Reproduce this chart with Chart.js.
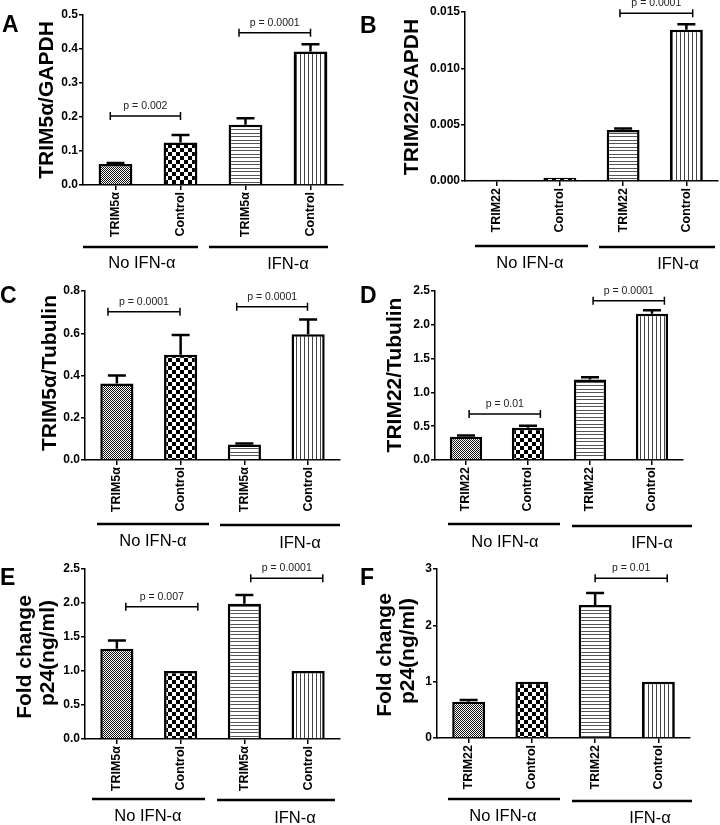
<!DOCTYPE html>
<html>
<head>
<meta charset="utf-8">
<script src="https://cdn.jsdelivr.net/npm/chart.js@4.4.1/dist/chart.umd.min.js"></script>
<style>
  html, body { margin: 0; padding: 0; background: #fff; }
  #page { position: relative; width: 720px; height: 825px; overflow: hidden; }
  canvas { position: absolute; }
</style>
</head>
<body>
<div id="page">
  <canvas id="chartA" width="360" height="270" style="left:0;top:0;width:360px;height:270px"></canvas>
  <canvas id="chartB" width="360" height="270" style="left:360px;top:0;width:360px;height:270px"></canvas>
  <canvas id="chartC" width="360" height="285" style="left:0;top:270px;width:360px;height:285px"></canvas>
  <canvas id="chartD" width="360" height="285" style="left:360px;top:270px;width:360px;height:285px"></canvas>
  <canvas id="chartE" width="360" height="285" style="left:0;top:540px;width:360px;height:285px"></canvas>
  <canvas id="chartF" width="360" height="285" style="left:360px;top:540px;width:360px;height:285px"></canvas>
</div>
<script>
// ---- data ----
const groupNames = ["No IFN-\u03B1", "IFN-\u03B1"];
const labelsTrim5 = ["TRIM5\u03B1", "Control", "TRIM5\u03B1", "Control"];
const labelsTrim22 = ["TRIM22", "Control", "TRIM22", "Control"];

// A: TRIM5a / GAPDH
const trim5Gapdh = [0.062, 0.125, 0.177, 0.393];
const trim5GapdhSem = [0.003, 0.022, 0.019, 0.021];
const pA = ["p = 0.002", "p = 0.0001"];

// B: TRIM22 / GAPDH
const trim22Gapdh = [0.00012, 0.00028, 0.00452, 0.01343];
const trim22GapdhSem = [0, 0, 0.00015, 0.00048];
const pB = ["p = 0.0001"];

// C: TRIM5a / Tubulin
const trim5Tubulin = [0.362, 0.498, 0.073, 0.595];
const trim5TubulinSem = [0.038, 0.094, 0.005, 0.07];
const pC = ["p = 0.0001", "p = 0.0001"];

// D: TRIM22 / Tubulin
const trim22Tubulin = [0.345, 0.477, 1.19, 2.165];
const trim22TubulinSem = [0.019, 0.03, 0.035, 0.05];
const pD = ["p = 0.01", "p = 0.0001"];

// E: p24 fold change, TRIM5a
const p24Trim5 = [1.328, 1.0, 1.99, 1.0];
const p24Trim5Sem = [0.122, 0, 0.128, 0];
const pE = ["p = 0.007", "p = 0.0001"];

// F: p24 fold change, TRIM22
const p24Trim22 = [0.645, 1.0, 2.36, 1.0];
const p24Trim22Sem = [0.03, 0, 0.214, 0];
const pF = ["p = 0.01"];

const FONT = "Arial, 'Liberation Sans', Helvetica, sans-serif";

// fill patterns: fine dots, checkerboard, horizontal lines, vertical lines
function makePattern(kind) {
    const c = document.createElement('canvas');
    const g = c.getContext('2d');
    if (kind === 'fine') {
        c.width = 2; c.height = 2;
        g.fillStyle = '#fff'; g.fillRect(0, 0, 2, 2);
        g.fillStyle = '#111';
        g.fillRect(0, 0, 1, 1); g.fillRect(1, 1, 1, 1);
    } else if (kind === 'check') {
        c.width = 8; c.height = 8;
        g.fillStyle = '#fff'; g.fillRect(0, 0, 8, 8);
        g.fillStyle = '#000';
        g.fillRect(0, 0, 4, 4); g.fillRect(4, 4, 4, 4);
    } else if (kind === 'hlines') {
        c.width = 4; c.height = 7;
        g.fillStyle = '#fff'; g.fillRect(0, 0, 4, 7);
        g.fillStyle = '#555';
        g.fillRect(0, 0, 4, 1); g.fillRect(0, 3, 4, 1);
    } else {
        c.width = 4; c.height = 4;
        g.fillStyle = '#fff'; g.fillRect(0, 0, 4, 4);
        g.fillStyle = '#444';
        g.fillRect(0, 0, 1, 4);
    }
    return g.createPattern(c, 'repeat');
}

const patterns = [makePattern('fine'), makePattern('check'), makePattern('hlines'), makePattern('vlines')];

// error bars, p-value brackets, group lines and labels, titles
const decor = {
    id: 'decor',
    afterDraw(chart, args, o) {
        const ctx = chart.ctx;
        const xs = chart.scales.x, ys = chart.scales.y;
        const meta = chart.getDatasetMeta(0);
        ctx.save();
        ctx.strokeStyle = '#000';
        ctx.fillStyle = '#000';

        // error bars (upper only)
        ctx.lineWidth = 2.5;
        o.sem.forEach((s, i) => {
            if (!s) return;
            const bar = meta.data[i];
            const top = ys.getPixelForValue(o.means[i] + s);
            ctx.beginPath();
            ctx.moveTo(bar.x, bar.y);
            ctx.lineTo(bar.x, top);
            ctx.moveTo(bar.x - 9, top);
            ctx.lineTo(bar.x + 9, top);
            ctx.stroke();
        });

        // brackets
        ctx.lineWidth = 1.5;
        ctx.font = '10.5px ' + FONT;
        ctx.textAlign = 'center';
        ctx.textBaseline = 'alphabetic';
        o.brackets.forEach((b, i) => {
            const x1 = xs.getPixelForValue(b[0]);
            const x2 = xs.getPixelForValue(b[1]);
            const y = ys.getPixelForValue(b[2]);
            ctx.beginPath();
            ctx.moveTo(x1, y); ctx.lineTo(x2, y);
            ctx.moveTo(x1, y - 4); ctx.lineTo(x1, y + 4);
            ctx.moveTo(x2, y - 4); ctx.lineTo(x2, y + 4);
            ctx.stroke();
            ctx.fillStyle = '#222';
            ctx.fillText(o.pTexts[i], (x1 + x2) / 2, y - 7);
        });

        // group underlines and names
        ctx.fillStyle = '#000';
        ctx.lineWidth = 2.5;
        o.groupLines.forEach((g, i) => {
            ctx.beginPath();
            ctx.moveTo(g[0], g[2]); ctx.lineTo(g[1], g[2]);
            ctx.stroke();
            ctx.font = '16.5px ' + FONT;
            ctx.textBaseline = 'middle';
            ctx.fillText(groupNames[i], o.groupLabelPos[i][0], o.groupLabelPos[i][1]);
        });

        // y title (rotated)
        ctx.font = 'bold 21px ' + FONT;
        o.title.forEach(t => {
            ctx.save();
            ctx.translate(t[1], t[2]);
            ctx.rotate(-Math.PI / 2);
            ctx.textAlign = 'center';
            ctx.textBaseline = 'middle';
            ctx.fillText(t[0], 0, 0);
            ctx.restore();
        });

        // panel letter
        ctx.font = 'bold 23px ' + FONT;
        ctx.textAlign = 'left';
        ctx.textBaseline = 'alphabetic';
        ctx.fillText(o.letter, o.letterPos[0], o.letterPos[1]);
        ctx.restore();
    }
};

function createPanel(p) {
    const canvas = document.querySelector('#' + p.id);
    const H = canvas.height, W = canvas.width;
    let options = {
        type: 'bar',
        data: {
            labels: p.labels,
            datasets: [{
                data: p.means,
                backgroundColor: patterns,
                borderColor: '#000',
                borderWidth: 2.5,
                barPercentage: 0.52,
                categoryPercentage: 1.0,
            }]
        },
        options: {
            responsive: false,
            animation: false,
            devicePixelRatio: 1,
            layout: {
                padding: { left: 0, top: p.area.t, right: W - p.area.r, bottom: 0 }
            },
            scales: {
                x: {
                    offset: true,
                    grid: { display: true, offset: false, drawOnChartArea: false, drawTicks: true,
                            tickLength: 5, color: '#000', lineWidth: 1.5 },
                    border: { display: true, color: '#000', width: 1.5 },
                    ticks: { color: '#000', font: { family: FONT, weight: 'bold', size: 12.5 },
                             minRotation: 90, maxRotation: 90, padding: 2, autoSkip: false },
                    afterFit(scale) { scale.height = H - p.area.b; }
                },
                y: {
                    min: 0,
                    max: p.yMax,
                    grid: { display: true, drawOnChartArea: false, drawTicks: true,
                            tickLength: 4, color: '#000', lineWidth: 1.5 },
                    border: { display: true, color: '#000', width: 1.5 },
                    ticks: { stepSize: p.yStep, color: '#000', padding: 1,
                             font: { family: FONT, weight: 'bold', size: 12 },
                             callback: v => Number(v).toFixed(p.dec) },
                    afterFit(scale) { scale.width = p.area.l; }
                }
            },
            plugins: {
                legend: { display: false },
                tooltip: { enabled: false },
                decor: {
                    means: p.means, sem: p.sem, brackets: p.brackets, pTexts: p.pTexts,
                    groupLines: p.groupLines, groupLabelPos: p.groupLabelPos,
                    title: p.title, letter: p.letter, letterPos: p.letterPos
                }
            }
        },
        plugins: [decor]
    };
    return new Chart(canvas.getContext('2d'), options);
}

// layout of each panel, in canvas pixels; brackets are [fromIndex, toIndex, yValue]
const panels = [
    { id: 'chartA', area: { l: 83, r: 343, t: 15, b: 185 }, labels: labelsTrim5,
      means: trim5Gapdh, sem: trim5GapdhSem, yMax: 0.5, yStep: 0.1, dec: 1,
      brackets: [[-0.08, 1.0, 0.203], [1.9, 3.0, 0.448]], pTexts: pA,
      groupLines: [[83, 198, 247], [209, 328, 247]], groupLabelPos: [[142, 263], [288, 264]],
      title: [['TRIM5\u03B1/GAPDH', 47, 100]], letter: 'A', letterPos: [2, 32] },
    { id: 'chartB', area: { l: 105, r: 358, t: 12, b: 181 }, labels: labelsTrim22,
      means: trim22Gapdh, sem: trim22GapdhSem, yMax: 0.015, yStep: 0.005, dec: 3,
      brackets: [[1.95, 3.1, 0.01488]], pTexts: pB,
      groupLines: [[115, 228, 246], [239, 355, 247]], groupLabelPos: [[170, 263], [318, 264]],
      title: [['TRIM22/GAPDH', 52, 97]], letter: 'B', letterPos: [0, 33] },
    { id: 'chartC', area: { l: 85, r: 340, t: 21, b: 190 }, labels: labelsTrim5,
      means: trim5Tubulin, sem: trim5TubulinSem, yMax: 0.8, yStep: 0.2, dec: 1,
      brackets: [[-0.14, 0.99, 0.702], [1.88, 2.99, 0.726]], pTexts: pC,
      groupLines: [[97, 209, 254], [220, 340, 255]], groupLabelPos: [[153, 271], [300, 273]],
      title: [['TRIM5\u03B1/Tubulin', 50, 103]], letter: 'C', letterPos: [0, 33] },
    { id: 'chartD', area: { l: 75, r: 323, t: 21, b: 190 }, labels: labelsTrim22,
      means: trim22Tubulin, sem: trim22TubulinSem, yMax: 2.5, yStep: 0.5, dec: 1,
      brackets: [[0.05, 1.2, 0.68], [2.05, 3.2, 2.356]], pTexts: pD,
      groupLines: [[88, 200, 254], [212, 332, 256]], groupLabelPos: [[145, 272], [292, 273]],
      title: [['TRIM22/Tubulin', 35, 105]], letter: 'D', letterPos: [0, 33] },
    { id: 'chartE', area: { l: 85, r: 340, t: 29, b: 199 }, labels: labelsTrim5,
      means: p24Trim5, sem: p24Trim5Sem, yMax: 2.5, yStep: 0.5, dec: 1,
      brackets: [[0.14, 1.27, 1.946], [2.1, 3.23, 2.363]], pTexts: pE,
      groupLines: [[92, 205, 259], [217, 335, 260]], groupLabelPos: [[148, 276], [295, 278]],
      title: [['Fold change', 25, 117], ['p24(ng/ml)', 48, 113]], letter: 'E', letterPos: [0, 45] },
    { id: 'chartF', area: { l: 77, r: 330, t: 29, b: 198 }, labels: labelsTrim22,
      means: p24Trim22, sem: p24Trim22Sem, yMax: 3, yStep: 1, dec: 0,
      brackets: [[2.0, 3.14, 2.835]], pTexts: pF,
      groupLines: [[88, 200, 259], [212, 332, 261]], groupLabelPos: [[143, 276], [290, 278]],
      title: [['Fold change', 25, 115], ['p24(ng/ml)', 48, 111]], letter: 'F', letterPos: [0, 45] },
];

function main() {
    panels.forEach(createPanel);
}

main();
</script>
</body>
</html>
